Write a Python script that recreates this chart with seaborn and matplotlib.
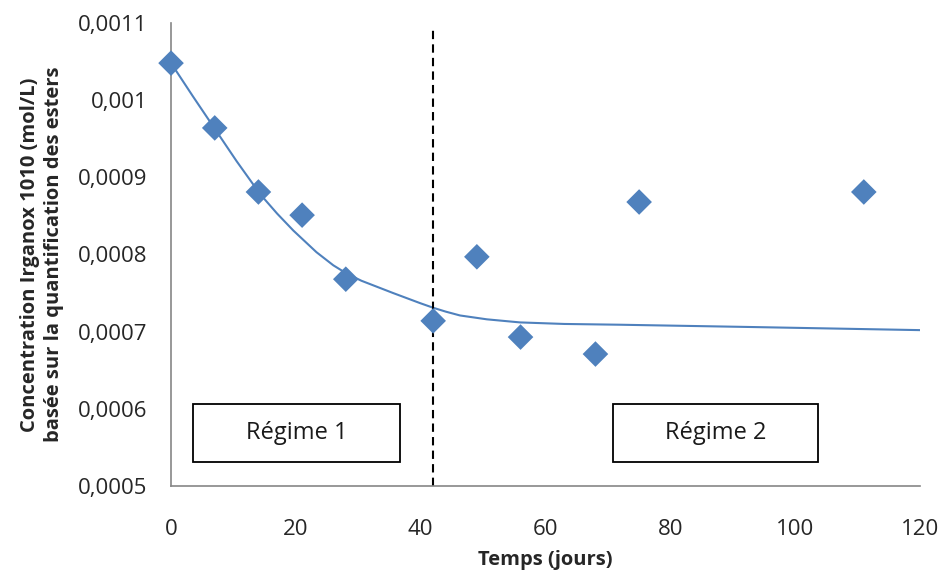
import matplotlib
matplotlib.use("Agg")
import matplotlib.pyplot as plt
from matplotlib.patches import Rectangle
import seaborn as sns
import pandas as pd

# measured points
jours = [0, 7, 14, 21, 28, 42, 49, 56, 68, 75, 111]
concentration = [0.001048, 0.000964, 0.000881, 0.000851, 0.000768, 0.000714,
                 0.000797, 0.000693, 0.000671, 0.000868, 0.000881]

# fitted trend curve
courbe_x = [0, 3.5, 7, 10.5, 14.3, 17, 19.6, 23.3, 26, 28.2, 30.5, 35.6, 39.9,
            42, 44, 46.3, 50.6, 55.9, 63, 71.9, 93.2, 120]
courbe_y = [0.001048, 0.001005, 0.000963, 0.000921, 0.000878, 0.000853, 0.000831,
            0.000803, 0.000786, 0.000775, 0.000766, 0.000750, 0.000737, 0.000731,
            0.000726, 0.000721, 0.000716, 0.000712, 0.000710, 0.000709, 0.000706,
            0.000702]

y_ticks = [0.0005, 0.0006, 0.0007, 0.0008, 0.0009, 0.001, 0.0011]
y_labels = ["0,0005", "0,0006", "0,0007", "0,0008", "0,0009", "0,001", "0,0011"]
x_ticks = [0, 20, 40, 60, 80, 100, 120]
limite_regime = 42
regimes = ["Régime 1", "Régime 2"]

sns.set_theme(style="white")
plt.rcParams["font.family"] = ["Open Sans", "DejaVu Sans"]

bleu = "#4F81BD"
gris = "#868686"

fig = plt.figure(figsize=(9.46, 5.73), dpi=100)
ax = fig.add_axes([0.1808, 0.1518, 0.7917, 0.8081])

df_points = pd.DataFrame({"jours": jours, "conc": concentration})
df_courbe = pd.DataFrame({"jours": courbe_x, "conc": courbe_y})

sns.lineplot(data=df_courbe, x="jours", y="conc", color=bleu, linewidth=1.5, ax=ax)
sns.scatterplot(data=df_points, x="jours", y="conc", marker="D", s=170,
                color=bleu, edgecolor="none", ax=ax, zorder=3, clip_on=False)

ax.axvline(limite_regime, ymax=0.99, color="black", linestyle=(0, (4, 2.5)), linewidth=1.5)

ax.set_xlim(0, 120)
ax.set_ylim(0.0005, 0.0011)
ax.set_xticks(x_ticks)
ax.set_xticklabels([str(t) for t in x_ticks], fontsize=16)
ax.set_yticks(y_ticks)
ax.set_yticklabels(y_labels, fontsize=16)
ax.tick_params(axis="x", length=0, pad=24)
ax.tick_params(axis="y", length=0, pad=17)

for side in ["top", "right"]:
    ax.spines[side].set_visible(False)
for side in ["left", "bottom"]:
    ax.spines[side].set_color(gris)
    ax.spines[side].set_linewidth(1.2)

ax.set_xlabel("Temps (jours)", fontsize=14.5, fontweight="bold", va="center")
ax.xaxis.set_label_coords(0.5, -0.16)
ax.set_ylabel("Concentration Irganox 1010 (mol/L)\nbasée sur la quantification des esters",
              fontsize=14.5, fontweight="bold", va="center", linespacing=1.3)
ax.yaxis.set_label_coords(-0.172, 0.5)

# boxes "Régime 1" / "Régime 2"
for (x0, x1), nom in zip([(3.5, 36.7), (70.8, 103.7)], regimes):
    ax.add_patch(Rectangle((x0, 0.000531), x1 - x0, 0.000075, facecolor="white",
                           edgecolor="black", linewidth=1.3, zorder=4))
    ax.text((x0 + x1) / 2, 0.0005685, nom, fontsize=17, ha="center", va="center",
            color="#1a1a1a", zorder=5)

fig.savefig("out.png", dpi=100)
